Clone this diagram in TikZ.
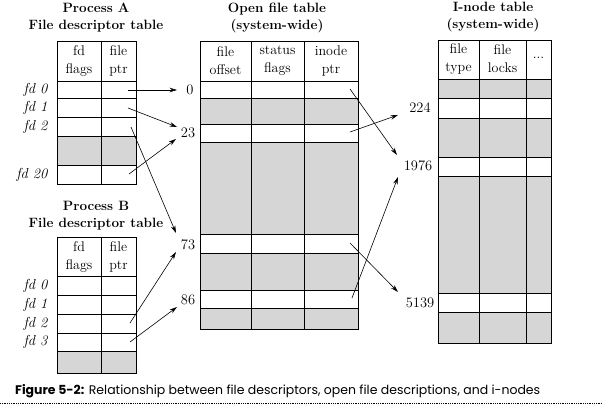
\documentclass[tikz,border=0pt]{standalone}
\usepackage{fontspec}
\newfontfamily\capfont{Poppins}
\usetikzlibrary{arrows.meta}
\begin{document}
\begin{tikzpicture}[x=1pt,y=-1pt,
  frame/.style={line width=0.9pt},
  gridl/.style={line width=0.6pt},
  shade/.style={fill=black!16},
  title/.style={font=\fontsize{13.5}{17}\selectfont\bfseries, align=center},
  hdr/.style={font=\fontsize{14}{18}\selectfont, align=center},
  fdl/.style={font=\fontsize{14.5}{16}\selectfont\itshape, anchor=east},
  num/.style={font=\fontsize{14.5}{16}\selectfont},
  arr/.style={-{Stealth[length=7.5pt,width=4.5pt]}, line width=0.6pt}]
\useasboundingbox (0,0) rectangle (603,407);

% ---------- Process A table ----------
\fill[shade] (57,136) rectangle (136,165);
\draw[gridl] (57,81) -- (136,81) (57,98) -- (136,98) (57,117) -- (136,117)
  (57,136) -- (136,136) (57,165) -- (136,165) (101,41) -- (101,184);
\draw[frame] (57,41) rectangle (136,184);
\node[title] (tA) at (96,18) {Process A\\File descriptor table};
\node[hdr] (hA1) at (79,61) {fd\\flags};
\node[hdr] (hA2) at (118.5,61) {file\\ptr};
\node[fdl] (fA0) at (51,89.5) {fd 0};
\node[fdl] (fA1) at (51,107.5) {fd 1};
\node[fdl] (fA2) at (51,126.5) {fd 2};
\node[fdl] (fA20) at (51,174.5) {fd 20};

% ---------- Process B table ----------
\fill[shade] (57,351) rectangle (136,373);
\draw[gridl] (57,276) -- (136,276) (57,295) -- (136,295) (57,314) -- (136,314)
  (57,333) -- (136,333) (57,351) -- (136,351) (101,237) -- (101,373);
\draw[frame] (57,237) rectangle (136,373);
\node[title] (tB) at (96,216) {Process B\\File descriptor table};
\node[hdr] (hB1) at (79,257) {fd\\flags};
\node[hdr] (hB2) at (118.5,257) {file\\ptr};
\node[fdl] (fB0) at (51,285.5) {fd 0};
\node[fdl] (fB1) at (51,304.5) {fd 1};
\node[fdl] (fB2) at (51,323.5) {fd 2};
\node[fdl] (fB3) at (51,342) {fd 3};

% ---------- Open file table ----------
\fill[shade] (200,98) rectangle (358,124);
\fill[shade] (200,142) rectangle (358,234);
\fill[shade] (200,253) rectangle (358,290);
\fill[shade] (200,308) rectangle (358,329);
\draw[gridl] (200,81) -- (358,81) (200,98) -- (358,98) (200,124) -- (358,124)
  (200,142) -- (358,142) (200,234) -- (358,234) (200,253) -- (358,253)
  (200,290) -- (358,290) (200,308) -- (358,308)
  (251,41) -- (251,329) (304,41) -- (304,329);
\draw[frame] (200,41) rectangle (358,329);
\node[title] (tO) at (277,18) {Open file table\\(system-wide)};
\node[hdr] (hO1) at (225.5,61) {file\\offset};
\node[hdr] (hO2) at (277.5,61) {status\\flags};
\node[hdr] (hO3) at (331,61) {inode\\ptr};

% ---------- I-node table ----------
\fill[shade] (438,79) rectangle (551,98);
\fill[shade] (438,118) rectangle (551,157);
\fill[shade] (438,176) rectangle (551,293);
\fill[shade] (438,312) rectangle (551,343);
\draw[gridl] (438,79) -- (551,79) (438,98) -- (551,98) (438,118) -- (551,118)
  (438,157) -- (551,157) (438,176) -- (551,176) (438,293) -- (551,293)
  (438,312) -- (551,312) (479,40) -- (479,343) (526,40) -- (526,343);
\draw[frame] (438,40) rectangle (551,343);
\node[title] (tI) at (493,17) {I-node table\\(system-wide)};
\node[hdr] (hI1) at (458.5,59) {file\\type};
\node[hdr] (hI2) at (502.5,59) {file\\locks};
\node[hdr] (hI3) at (538.5,58) {...};

% ---------- numbers ----------
\node[num] (n0) at (190,90) {0};
\node[num] (n23) at (188,133) {23};
\node[num] (n73) at (188,245) {73};
\node[num] (n86) at (188,300) {86};
\node[num] (n224) at (420,108) {224};
\node[num] (n1976) at (418,166) {1976};
\node[num] (n5139) at (420,303) {5139};

% ---------- connector ends ----------
\coordinate (sA0) at (128,90);   \coordinate (eA0) at (177,90);
\coordinate (sA1) at (128,108);  \coordinate (eA1) at (177,127);
\coordinate (sA20) at (129,174); \coordinate (eA20) at (176,139);
\coordinate (sA2) at (131,127);  \coordinate (eA2) at (176,233);
\coordinate (sB2) at (130,323);  \coordinate (eB2) at (176,252);
\coordinate (sB3) at (130,342);  \coordinate (eB3) at (177,307);
\coordinate (sO0) at (350,89);   \coordinate (eO0) at (397,155);
\coordinate (sO23) at (350,132); \coordinate (eO23) at (398,115);
\coordinate (sO73) at (350,243); \coordinate (eO73) at (398,292);
\coordinate (sO86) at (352,298); \coordinate (eO86) at (398,177);

\draw[arr] (sA0) -- (eA0);
\draw[arr] (sA1) -- (eA1);
\draw[arr] (sA20) -- (eA20);
\draw[arr] (sA2) -- (eA2);
\draw[arr] (sB2) -- (eB2);
\draw[arr] (sB3) -- (eB3);
\draw[arr] (sO0) -- (eO0);
\draw[arr] (sO23) -- (eO23);
\draw[arr] (sO73) -- (eO73);
\draw[arr] (sO86) -- (eO86);

% ---------- caption ----------
\node[anchor=west, inner sep=0pt, font=\capfont\fontsize{12.5}{15}\selectfont] (cap) at (15,391)
  {\textbf{Figure 5-2:} Relationship between file descriptors, open file descriptions, and i-nodes};
\coordinate (dl) at (0,403);
\coordinate (dr) at (603,403);
\draw[densely dotted, line width=0.8pt] (dl) -- (dr);
\end{tikzpicture}
\end{document}
